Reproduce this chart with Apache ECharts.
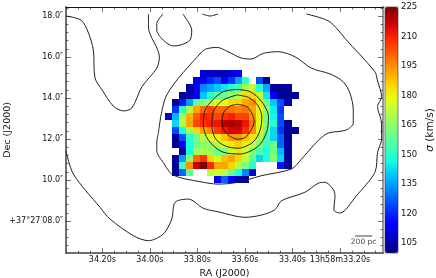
<!DOCTYPE html>
<html><head><meta charset="utf-8">
<style>html,body{margin:0;padding:0;background:#fff}#c{width:436px;height:278px}</style>
<script src="https://cdn.jsdelivr.net/npm/echarts@6/dist/echarts.min.js"></script>
</head><body><div id="c"></div>
<script>
var n = null;
// velocity dispersion map, km/s; rows north to south, columns east to west
var sigmaRows = [
[n,n,n,n,n,110,108,106,106,110,114,n,n,n,n,n,n,n,n],
[n,n,n,n,112,115,120,125,115,122,136,150,n,125,103,n,n,n,n],
[n,n,n,104,115,132,136,140,144,150,156,170,173,150,136,103,103,103,n],
[n,n,103,104,115,140,150,158,160,165,172,184,186,174,144,115,103,103,103],
[n,103,118,135,158,165,170,178,178,184,186,192,195,182,160,140,125,105,n],
[n,122,150,170,192,200,205,200,200,198,196,198,192,180,165,145,122,n,n],
[110,138,168,190,202,210,208,205,208,210,205,205,195,180,162,146,125,n,n],
[n,142,170,192,205,208,210,212,218,220,218,212,198,178,162,150,125,103,n],
[n,125,148,168,186,192,196,206,212,216,216,208,195,180,160,142,122,103,103],
[n,103,125,150,160,172,178,181,188,194,194,188,183,170,155,142,128,103,n],
[n,103,115,148,160,165,165,172,176,182,187,181,173,163,152,160,128,103,n],
[n,n,103,148,168,168,168,160,164,174,183,175,163,155,148,162,139,103,n],
[n,103,135,165,200,207,186,175,188,192,186,172,158,142,148,164,142,103,n],
[n,103,152,195,218,225,209,192,192,186,170,162,150,n,n,n,118,103,n],
[n,103,128,158,n,n,172,175,172,160,148,132,108,n,n,n,n,n,n],
[n,n,n,n,n,n,n,115,128,115,104,103,n,n,n,n,n,n,n]
];
var firstColumnRa = 33.922, columnStepRa = 0.0296;
var firstRowDec = 15.18, rowStepDec = 0.345;

var contourNorthWest = [[34.006,18.10],[34.006,17.46],[33.960,16.00],[33.971,15.46],[34.034,14.54],[34.076,13.51],[34.112,13.37],[34.154,13.61],[34.201,14.39],[34.231,14.98],[34.238,16.34],[34.260,17.22],[34.290,17.80],[34.353,18.00]];
var contourTopLoop = [[33.944,18.10],[33.971,17.64],[33.971,17.32],[33.944,16.83],[33.902,16.54],[33.869,16.59],[33.831,16.83],[33.824,17.32],[33.839,17.72],[33.861,18.10]];
var contourTopArc = [[33.779,18.10],[33.747,18.00],[33.713,18.10]];
var contourMiddle = [[33.964,12.29],[33.929,14.15],[33.781,16.26],[33.759,16.41],[33.718,16.47],[33.671,16.26],[33.616,15.95],[33.574,15.90],[33.523,16.18],[33.460,16.26],[33.389,16.01],[33.321,15.46],[33.241,15.17],[33.187,14.80],[33.158,14.23],[33.144,13.41],[33.144,12.78],[33.174,12.44],[33.250,12.29],[33.285,12.00],[33.313,11.67],[33.362,11.02],[33.404,10.54],[33.531,10.21],[33.629,9.89],[33.713,9.80],[33.789,9.92],[33.902,10.24],[33.944,10.86],[33.971,11.43],[33.971,11.85],[33.964,12.29]];
var contourOuter = [[33.341,18.10],[33.250,17.77],[33.208,17.32],[33.179,16.91],[33.053,15.28],[33.043,14.88],[33.025,14.06],[33.042,13.58],[33.025,12.77],[33.025,12.00],[33.042,11.35],[33.053,10.38],[33.131,9.23],[33.200,8.39],[33.226,8.54],[33.221,9.23],[33.229,9.56],[33.264,9.89],[33.292,9.84],[33.348,9.40],[33.446,8.99],[33.474,8.55],[33.531,8.29],[33.600,8.18],[33.713,8.45],[33.775,8.62],[33.838,9.07],[33.894,8.91],[33.908,8.10],[33.943,7.37],[34.006,7.04],[34.069,7.28],[34.168,8.10],[34.210,8.67],[34.322,10.29],[34.353,11.43]];
var ringInner = [[33.632,13.69],[33.592,13.58],[33.571,13.25],[33.561,12.84],[33.574,12.44],[33.599,12.08],[33.632,11.99],[33.665,12.15],[33.688,12.44],[33.697,12.84],[33.688,13.33],[33.662,13.61],[33.632,13.69]];
var ringMiddle = [[33.634,14.15],[33.585,14.03],[33.547,13.66],[33.529,13.09],[33.536,12.44],[33.564,11.87],[33.627,11.55],[33.683,11.66],[33.725,12.03],[33.739,12.68],[33.733,13.33],[33.697,13.87],[33.634,14.15]];
var ringOuter = [[33.637,14.42],[33.578,14.31],[33.529,13.82],[33.501,13.09],[33.508,12.36],[33.543,11.66],[33.620,11.27],[33.697,11.38],[33.754,11.95],[33.775,12.68],[33.768,13.41],[33.733,13.94],[33.691,14.31],[33.637,14.42]];

var raTicks = [34.2,34.0,33.8,33.6,33.4,33.2];
var raTickLabels = ['34.20s','34.00s','33.80s','33.60s','33.40s','13h58m33.20s'];
var raMinorTicks = [34.35,34.3,34.25,34.15,34.1,34.05,33.95,33.9,33.85,33.75,33.7,33.65,33.55,33.5,33.45,33.35,33.3,33.25,33.15,33.1,33.05];
var decTicks = [18,16,14,12,10,8];
var decTickLabels = ['18.0\u2033','16.0\u2033','14.0\u2033','12.0\u2033','10.0\u2033','+37\u00b027\u203208.0\u2033'];
var decMinorTicks = [18.4,17.6,17.2,16.8,16.4,15.6,15.2,14.8,14.4,13.6,13.2,12.8,12.4,11.6,11.2,10.8,10.4,9.6,9.2,8.8,8.4,7.6,7.2,6.8];
var colorTicks = [105,120,135,150,165,180,195,210,225];
var jetStops = ['#00007f','#0000c8','#0000ff','#0040ff','#0080ff','#00bfff','#14ffe3','#48ffaf','#7bff7b','#afff48','#e2ff14','#ffd200','#ff9700','#ff5d00','#ff2200','#c80000','#7f0000'];
var scaleBarRa = [33.137,33.064], scaleBarDec = 7.27, scaleBarLabelDec = 6.98, scaleBarLabel = '200 pc';

var raMin = 33.019, raMax = 34.353, decMin = 6.44, decMax = 18.44;
var font = '"DejaVu Sans"';

var cells = [];
sigmaRows.forEach(function (row, r) {
  row.forEach(function (v, c) {
    if (v !== null) cells.push([firstColumnRa - c * columnStepRa, firstRowDec - r * rowStepDec, v]);
  });
});

function xAx(pos, vals, len, labels) {
  var a = {type:'value', inverse:true, min:raMin, max:raMax, position:pos, gridIndex:0, splitLine:{show:false},
    axisLine:{show:true,onZero:false,lineStyle:{color: pos==='top' ? '#111' : '#666', width: pos==='top' ? 1 : 1.5}},
    axisTick:{show:true,inside:true,length:len,customValues:vals,lineStyle:{color:'#333',width:0.7}},
    axisLabel:{show:false}};
  if (labels) {
    a.axisLabel = {show:true,customValues:vals,margin:3,fontFamily:font,fontSize:8,color:'#111',hideOverlap:false,
      showMinLabel:true,showMaxLabel:true,
      formatter:function(v){return raTickLabels[raTicks.indexOf(Math.round(v*10)/10)];}};
    a.name = 'RA (J2000)'; a.nameLocation='middle'; a.nameGap=10;
    a.nameTextStyle = {fontFamily:font,fontSize:9.5,color:'#111'};
  }
  return a;
}
function yAx(pos, vals, len, labels) {
  var a = {type:'value', min:decMin, max:decMax, position:pos, gridIndex:0, splitLine:{show:false},
    axisLine:{show:true,onZero:false,lineStyle:{color: pos==='right' ? '#999' : '#666', width: pos==='right' ? 2 : 1.5}},
    axisTick:{show:true,inside:true,length:len,customValues:vals,lineStyle:{color:'#333',width:0.7}},
    axisLabel:{show:false}};
  if (labels) {
    a.axisLabel = {show:true,customValues:vals,margin:3,fontFamily:font,fontSize:8,color:'#111',hideOverlap:false,
      formatter:function(v){return decTickLabels[decTicks.indexOf(Math.round(v))];}};
  }
  return a;
}
function contour(pts){
  return {type:'line',xAxisIndex:0,yAxisIndex:0,data:pts,showSymbol:false,symbol:'none',smooth:0.3,silent:true,z:5,
    lineStyle:{color:'#222',width:1},animation:false};
}

var series = [{
  type:'custom', xAxisIndex:0, yAxisIndex:0, data:cells, encode:{x:0,y:1}, z:2, silent:true, animation:false,
  renderItem:function(params,api){
    var ra=api.value(0), dec=api.value(1);
    var a=api.coord([ra+columnStepRa/2,dec+rowStepDec/2]), b=api.coord([ra-columnStepRa/2,dec-rowStepDec/2]);
    var x0=Math.round(a[0]),y0=Math.round(a[1]),x1=Math.round(b[0]),y1=Math.round(b[1]);
    return {type:'rect',shape:{x:x0,y:y0,width:x1-x0,height:y1-y0},style:{fill:api.visual('color')}};
  }
}];
[contourNorthWest,contourTopLoop,contourTopArc,contourMiddle,contourOuter,ringInner,ringMiddle,ringOuter].forEach(function(p){series.push(contour(p));});
series.push({type:'line',xAxisIndex:0,yAxisIndex:0,data:scaleBarRa.map(function(r){return [r,scaleBarDec];}),symbol:'none',silent:true,z:6,animation:false,
  lineStyle:{color:'#444',width:1}});
series.push({type:'scatter',xAxisIndex:0,yAxisIndex:0,data:[[(scaleBarRa[0]+scaleBarRa[1])/2,scaleBarLabelDec]],symbolSize:0,silent:true,z:6,animation:false,
  label:{show:true,position:'inside',formatter:scaleBarLabel,fontFamily:font,fontSize:7.5,color:'#111'}});

var chart = echarts.init(document.getElementById('c'),null,{renderer:'canvas'});
chart.setOption({
  animation:false,
  backgroundColor:'#fff',
  grid:[
    {left:66,top:7,width:317,height:246,containLabel:false,outerBoundsMode:'none'},
    {left:385,top:7,width:13,height:246,containLabel:false,outerBoundsMode:'none',show:true,borderColor:'#333',borderWidth:0.6,z:6}
  ],
  xAxis:[
    xAx('bottom',raTicks,5,true), xAx('top',raTicks,5,false), xAx('bottom',raMinorTicks,2.5,false), xAx('top',raMinorTicks,2.5,false),
    {type:'value',gridIndex:1,show:false,min:0,max:1}
  ],
  yAxis:[
    yAx('left',decTicks,5,true), yAx('right',decTicks,5,false), yAx('left',decMinorTicks,2.5,false), yAx('right',decMinorTicks,2.5,false),
    {type:'value',gridIndex:1,position:'right',min:100,max:225,splitLine:{show:false},
     axisLine:{show:false},
     axisTick:{show:false},
     axisLabel:{show:true,customValues:colorTicks,margin:3,fontFamily:font,fontSize:8.5,color:'#111',showMinLabel:true,showMaxLabel:true,
       formatter:function(v){return String(Math.round(v));}},
     name:'{i|\u03c3} (km/s)',nameLocation:'middle',nameGap:27,nameRotate:90,
     nameTextStyle:{fontFamily:font,fontSize:10.5,color:'#111',rich:{i:{fontFamily:font,fontSize:10.5,fontStyle:'italic',color:'#111'}}}}
  ],
  visualMap:{type:'continuous',min:100,max:225,dimension:2,seriesIndex:0,left:385,top:7,padding:0,itemWidth:13,itemHeight:246,
    calculable:false,text:['',''],textGap:0,hoverLink:false,inRange:{color:jetStops},silent:true},
  graphic:[{type:'text',left:3,top:102,rotation:Math.PI/2,style:{text:'Dec (J2000)',fontFamily:font,fontSize:9.5,fill:'#111'}}],
  series:series
});
</script></body></html>
